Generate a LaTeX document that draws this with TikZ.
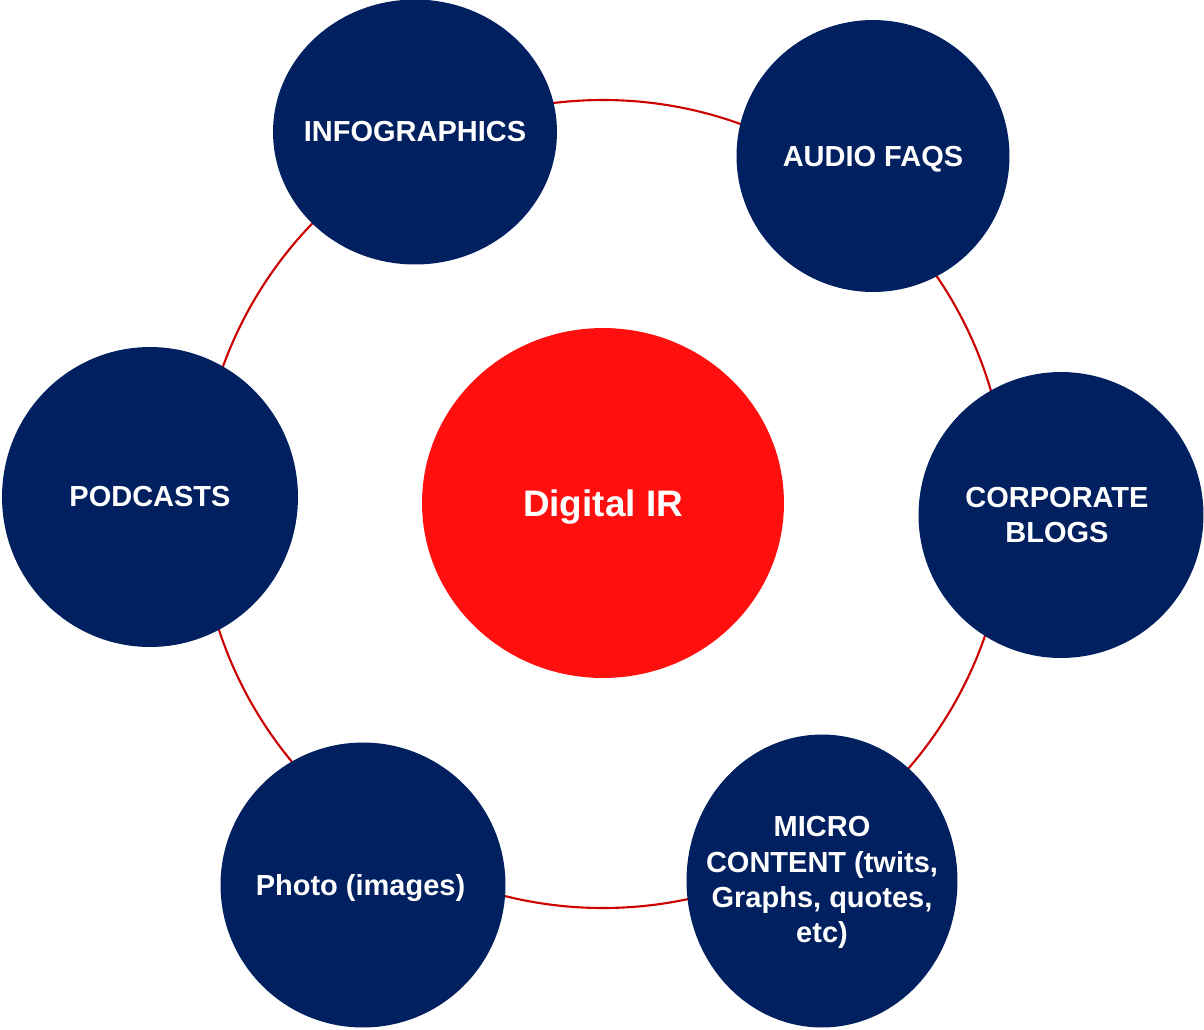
\documentclass[tikz,border=0pt]{standalone}
\usepackage{fontspec}
\setmainfont{Liberation Sans}
\usetikzlibrary{shapes.geometric}
\definecolor{navyblue}{RGB}{0,32,96}
\definecolor{hubred}{RGB}{255,16,14}
\definecolor{ringred}{RGB}{204,0,0}
\tikzset{
  topic/.style={ellipse, fill=navyblue, inner sep=0pt},
  topictext/.style={text=white, inner sep=0pt, align=center,
    font=\fontsize{16.5}{20}\selectfont\bfseries},
  hub/.style={ellipse, fill=hubred, inner sep=0pt},
  hubtext/.style={text=white, inner sep=0pt,
    font=\fontsize{21}{25}\selectfont\bfseries}
}
\begin{document}
\begin{tikzpicture}[x=0.02cm, y=-0.02cm]
\useasboundingbox (0,0) rectangle (1204,1029);
% anello
\draw[ringred, line width=1.2pt] (603,504) circle (404);
% centro
\node[hub, minimum width=7.24cm, minimum height=7cm,
  label={[hubtext, yshift=-0.08cm]center:Digital IR}] (ir) at (603,503) {};
% argomenti
\node[topic, minimum width=5.68cm, minimum height=5.3cm,
  label={[topictext]center:INFOGRAPHICS}] (info) at (415,132) {};
\node[topic, minimum width=5.46cm, minimum height=5.44cm,
  label={[topictext, yshift=-0.06cm]center:AUDIO FAQS}] (audio) at (873,156) {};
\node[topic, minimum width=5.7cm, minimum height=5.72cm,
  label={[topictext, xshift=-0.08cm]center:CORPORATE\\BLOGS}] (blogs) at (1061,515) {};
\node[topic, minimum width=5.42cm, minimum height=5.86cm,
  label={[topictext, yshift=-0.03cm]center:MICRO\\CONTENT (twits,\\Graphs, quotes,\\etc)}] (micro) at (822,881) {};
\node[topic, minimum width=5.7cm, minimum height=5.7cm,
  label={[topictext, yshift=-0.06cm, xshift=-0.05cm]center:Photo (images)}] (photo) at (363,885) {};
\node[topic, minimum width=5.92cm, minimum height=6cm,
  label={[topictext]center:PODCASTS}] (pod) at (150,497) {};
\end{tikzpicture}
\end{document}
